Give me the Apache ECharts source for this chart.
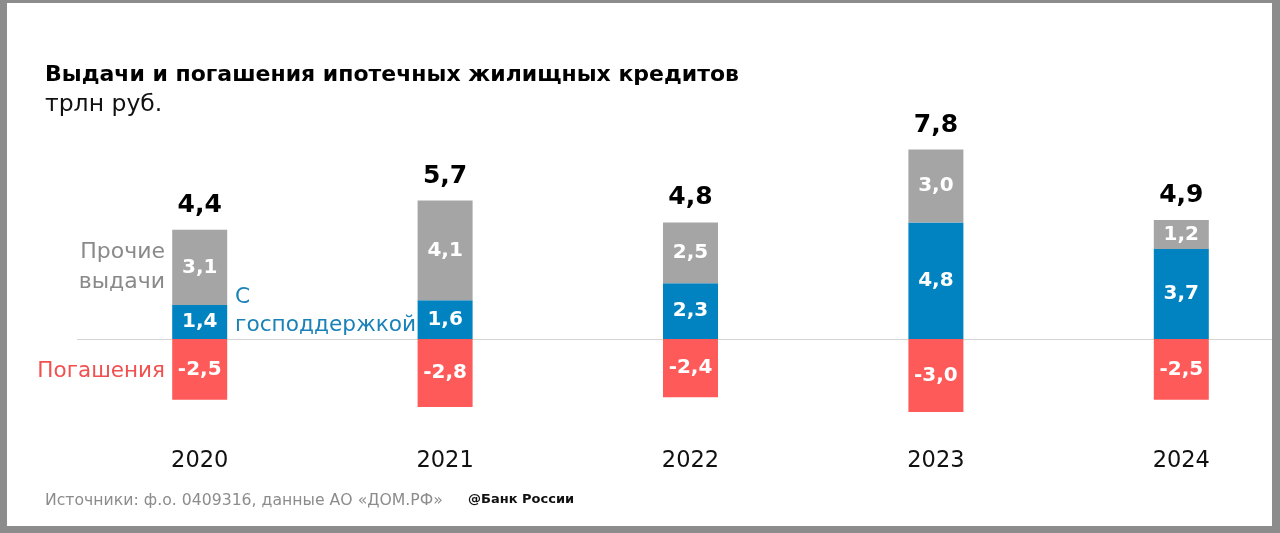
<!DOCTYPE html>
<html>
<head>
<meta charset="utf-8">
<script src="https://cdn.jsdelivr.net/npm/echarts@6/dist/echarts.min.js"></script>
<style>
html,body{margin:0;padding:0;background:#fff;}
#chart{width:1280px;height:533px;}
</style>
</head>
<body>
<div id="chart"></div>
<script>
const categories = ['2020', '2021', '2022', '2023', '2024'];
const supported = [1.4, 1.6, 2.3, 4.8, 3.7];
const other = [3.1, 4.1, 2.5, 3.0, 1.2];
const repayments = [-2.5, -2.8, -2.4, -3.0, -2.5];
const totals = [4.4, 5.7, 4.8, 7.8, 4.9];

const FONT = '"DejaVu Sans", "Noto Sans", sans-serif';
const fmt = v => Number(v).toFixed(1).replace('.', ',');
const GRAY = '#a5a5a5', BLUE = '#0083c0', RED = '#ff5a5a';

const chart = echarts.init(document.getElementById('chart'), null, {renderer: 'canvas'});
const inLabel = {
  show: true, position: 'inside', color: '#fff', fontFamily: FONT,
  fontWeight: 'bold', fontSize: 20, formatter: p => fmt(p.value)
};
chart.setOption({
  animation: false,
  backgroundColor: '#fff',
  textStyle: {fontFamily: FONT},
  grid: {left: 77, width: 1227, top: 132.5, height: 303.7, containLabel: false, outerBoundsMode: 'none'},
  xAxis: {
    type: 'category', data: categories,
    axisLine: {show: false, onZero: false}, axisTick: {show: false},
    axisLabel: {color: '#111', fontSize: 22.5, fontFamily: FONT, margin: 13}
  },
  yAxis: {type: 'value', min: -4, max: 8.5, show: false, splitLine: {show: false}},
  series: [
    {
      name: 'С господдержкой', type: 'bar', stack: 'a', barWidth: 55,
      data: supported, itemStyle: {color: BLUE}, label: inLabel
    },
    {
      name: 'Прочие выдачи', type: 'bar', stack: 'a', barWidth: 55,
      data: other, itemStyle: {color: GRAY}, label: inLabel
    },
    {
      name: 'Итого', type: 'bar', stack: 'a', barWidth: 55,
      data: other.map(() => 0), itemStyle: {color: 'transparent'},
      label: {
        show: true, position: 'top', distance: 12, color: '#000',
        fontFamily: FONT, fontWeight: 'bold', fontSize: 25,
        formatter: p => fmt(totals[p.dataIndex])
      }
    },
    {
      name: 'Погашения', type: 'bar', stack: 'a', barWidth: 55,
      data: repayments, itemStyle: {color: RED}, label: inLabel,
      markLine: {
        silent: true, symbol: 'none', label: {show: false},
        lineStyle: {color: '#d4d4d4', width: 1, type: 'solid'},
        data: [{yAxis: 0}], z: 1
      }
    }
  ],
  graphic: [
    {type: 'text', left: 45, top: 64, style: {text: 'Выдачи и погашения ипотечных жилищных кредитов', fill: '#000', font: 'bold 22px ' + FONT}},
    {type: 'text', left: 45, top: 93, style: {text: 'трлн руб.', fill: '#111', font: '23.5px ' + FONT}},
    {type: 'text', x: 165, y: 252, style: {text: 'Прочие', fill: '#8a8a8a', font: '22px ' + FONT, align: 'right', verticalAlign: 'middle'}},
    {type: 'text', x: 165, y: 282, style: {text: 'выдачи', fill: '#8a8a8a', font: '22px ' + FONT, align: 'right', verticalAlign: 'middle'}},
    {type: 'text', x: 235, y: 297, style: {text: 'С', fill: '#1a82b8', font: '21.7px ' + FONT, align: 'left', verticalAlign: 'middle'}},
    {type: 'text', x: 235, y: 325, style: {text: 'господдержкой', fill: '#1a82b8', font: '21.7px ' + FONT, align: 'left', verticalAlign: 'middle'}},
    {type: 'text', x: 165, y: 371, style: {text: 'Погашения', fill: '#f25050', font: '21.5px ' + FONT, align: 'right', verticalAlign: 'middle'}},
    {type: 'text', x: 45, y: 501, style: {text: 'Источники: ф.о. 0409316, данные АО «ДОМ.РФ»', fill: '#8c8c8c', font: '15.7px ' + FONT, verticalAlign: 'middle'}},
    {type: 'text', x: 468, y: 500, style: {text: '@Банк России', fill: '#111', font: 'bold 13px ' + FONT, verticalAlign: 'middle'}},
    {type: 'rect', z: 100, shape: {x: 0, y: 0, width: 1280, height: 3}, style: {fill: '#8c8c8c'}},
    {type: 'rect', z: 100, shape: {x: 0, y: 0, width: 7, height: 533}, style: {fill: '#8c8c8c'}},
    {type: 'rect', z: 100, shape: {x: 1272, y: 0, width: 8, height: 533}, style: {fill: '#8c8c8c'}},
    {type: 'rect', z: 100, shape: {x: 0, y: 526, width: 1280, height: 7}, style: {fill: '#8c8c8c'}}
  ]
});
</script>
</body>
</html>
